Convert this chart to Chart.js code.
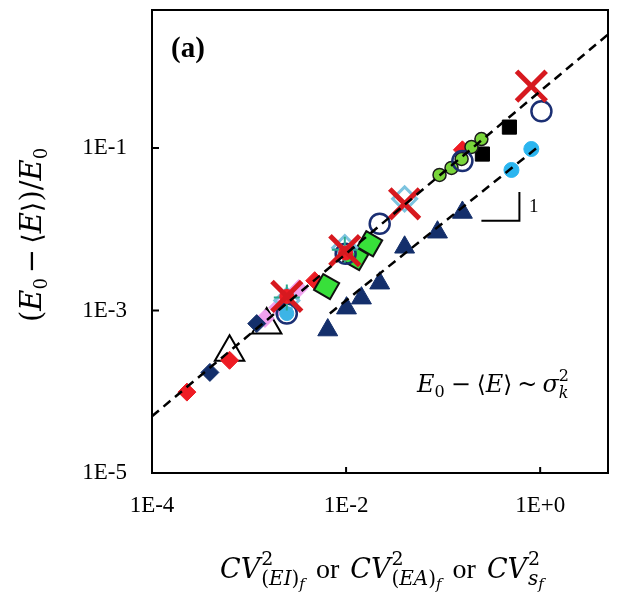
<!DOCTYPE html>
<html>
<head>
<meta charset="utf-8">
<script src="https://cdn.jsdelivr.net/npm/chart.js@4.4.1/dist/chart.umd.min.js"></script>
<style>
  html, body { margin: 0; padding: 0; background: #fff; }
</style>
</head>
<body>
<canvas id="chart" width="621" height="605"></canvas>
<script>
// axis ticks
const xTicks = [1e-4, 1e-2, 1];
const xTickLabels = ['1E-4', '1E-2', '1E+0'];
const yTicks = [1e-5, 1e-3, 1e-1];
const yTickLabels = ['1E-5', '1E-3', '1E-1'];

// fitted lines (slope 1 in log-log)
const fitUpperX = [1e-4, 5];
const fitUpperY = [5e-5, 2.5];
const fitLowerX = [0.0068, 0.92];
const fitLowerY = [9.2e-4, 0.1];
const slopeX = [0.248, 0.611, 0.611];
const slopeY = [0.0127, 0.0127, 0.0288];

// data series
const redDiamondX = [2.29e-4, 6.3e-4, 4.75e-3, 0.158];
const redDiamondY = [9.9e-5, 2.44e-4, 2.33e-3, 0.095];
const navyDiamondX = [3.95e-4, 1.2e-3];
const navyDiamondY = [1.73e-4, 6.9e-4];
const pinkDiamondX = [1.46e-3, 1.98e-3, 3.25e-3];
const pinkDiamondY = [7.98e-4, 1.09e-3, 1.86e-3];
const openTriX = [6.3e-4, 1.52e-3];
const openTriY = [3.06e-4, 6.64e-4];
const navyTriX = [6.47e-3, 1.01e-2, 1.44e-2, 2.22e-2, 4.01e-2, 8.75e-2, 0.158];
const navyTriY = [5.75e-4, 1.07e-3, 1.42e-3, 2.17e-3, 6.0e-3, 9.2e-3, 1.61e-2];
const cyanX = [0.506, 0.811];
const cyanY = [0.0537, 0.0973];
const cyanSmallX = [2.45e-3];
const cyanSmallY = [9.18e-4];
const blackSqX = [0.254, 0.482];
const blackSqY = [0.0843, 0.181];
const openCircX = [2.45e-3, 9.9e-3, 2.22e-2, 0.158, 1.03];
const openCircY = [9.18e-4, 5.0e-3, 1.17e-2, 0.0692, 0.284];
const greenCircX = [0.0918, 0.122, 0.155, 0.196, 0.248];
const greenCircY = [0.0467, 0.0569, 0.0733, 0.103, 0.129];
const greenSqX = [6.3e-3, 1.26e-2, 1.75e-2];
const greenSqY = [1.97e-3, 4.47e-3, 6.64e-3];
const redCrossX = [2.45e-3, 9.7e-3, 4.01e-2, 0.811];
const redCrossY = [1.49e-3, 5.45e-3, 2.06e-2, 0.577];
const lbDiamondX = [2.45e-3, 9.7e-3, 4.01e-2];
const lbDiamondY = [1.33e-3, 5.93e-3, 2.37e-2];
const tealPlusX = [2.45e-3, 9.7e-3];
const tealPlusY = [1.45e-3, 5.6e-3];
const redDotX = [2.45e-3, 9.9e-3];
const redDotY = [1.49e-3, 5.1e-3];

const pts = (xs, ys) => xs.map((x, i) => ({ x: x, y: ys[i] }));
const SERIF = '"Liberation Serif", "Times New Roman", serif';
const MATH = '"DejaVu Serif", serif';

function marker(xs, ys, style, radius, fill, stroke, width, extra) {
    return Object.assign({
        data: pts(xs, ys),
        pointStyle: style,
        pointRadius: radius,
        pointBackgroundColor: fill,
        pointBorderColor: stroke,
        pointBorderWidth: width,
        showLine: false
    }, extra || {});
}

function fitLine(xs, ys, dash, width) {
    return {
        data: pts(xs, ys),
        showLine: true,
        borderColor: '#000',
        borderWidth: width,
        borderDash: dash,
        pointRadius: 0,
        fill: false
    };
}

// draws a run of text parts; stacks hold sup/sub pairs
function richText(ctx, parts, x, y, draw) {
    let cx = x;
    for (const p of parts) {
        if (p.stack) {
            const a = richText(ctx, p.stack[0], cx, y, draw);
            const b = richText(ctx, p.stack[1], cx, y, draw);
            cx = Math.max(a, b);
        } else if (p.gap) {
            cx += p.gap;
        } else {
            ctx.font = (p.i ? 'italic ' : '') + p.s + 'px ' + (p.f || MATH);
            if (draw) ctx.fillText(p.t, cx, y + (p.dy || 0));
            cx += ctx.measureText(p.t).width;
        }
    }
    return cx;
}

function centeredText(ctx, parts, cx, y) {
    const w = richText(ctx, parts, 0, 0, false);
    richText(ctx, parts, cx - w / 2, y, true);
}

const decor = {
    id: 'decor',
    afterDraw(chart) {
        const ctx = chart.ctx;
        const a = chart.chartArea;
        const xs = chart.scales.x, ys = chart.scales.y;
        ctx.save();
        ctx.strokeStyle = '#000';
        ctx.lineWidth = 2;
        ctx.strokeRect(a.left, a.top, a.right - a.left, a.bottom - a.top);

        // inward tick marks
        ctx.beginPath();
        xTicks.forEach(v => {
            const p = xs.getPixelForValue(v);
            ctx.moveTo(p, a.bottom); ctx.lineTo(p, a.bottom - 6);
        });
        yTicks.forEach(v => {
            const p = ys.getPixelForValue(v);
            ctx.moveTo(a.left, p); ctx.lineTo(a.left + 7, p);
        });
        ctx.stroke();

        ctx.fillStyle = '#000';
        ctx.textBaseline = 'alphabetic';
        ctx.textAlign = 'left';

        // panel label
        ctx.font = 'bold 29px ' + SERIF;
        ctx.fillText('(a)', 171, 57);

        // slope label
        ctx.font = '19px ' + SERIF;
        ctx.fillText('1', 529, 212);

        // scaling annotation
        richText(ctx, [
            { t: 'E', i: true, s: 24 },
            { t: '0', s: 16, dy: 5 },
            { gap: 6 },
            { t: '\u2212', s: 24 },
            { gap: 6 },
            { t: '\u27E8', s: 23 },
            { t: 'E', i: true, s: 24 },
            { t: '\u27E9', s: 23 },
            { gap: 5 },
            { t: '~', s: 24 },
            { gap: 5 },
            { t: '\u03C3', i: true, s: 24 },
            { stack: [[{ t: '2', s: 16, dy: -11 }], [{ t: 'k', i: true, s: 16, dy: 6 }]] }
        ], 417, 392, true);

        // x title
        const cvPart = (sub) => [
            { t: 'CV', i: true, s: 27 },
            { gap: 1 },
            { stack: [[{ t: '2', s: 19, dy: -13 }], sub] }
        ];
        const sub = (txt) => [
            { t: '(', s: 20, dy: 7 }, { t: txt, i: true, s: 20, dy: 7 },
            { t: ')', s: 20, dy: 7 }, { t: 'f', i: true, s: 15, dy: 11 }
        ];
        const or = [{ gap: 4 }, { t: ' or ', s: 28, f: SERIF }, { gap: 4 }];
        const xParts = [].concat(
            cvPart(sub('EI')), or,
            cvPart(sub('EA')), or,
            cvPart([{ t: 's', i: true, s: 20, dy: 7 }, { t: 'f', i: true, s: 15, dy: 11 }])
        );
        centeredText(ctx, xParts, (a.left + a.right) / 2 + 2, 578);

        // y title, rotated
        ctx.translate(41, 235);
        ctx.rotate(-Math.PI / 2);
        centeredText(ctx, [
            { t: '(', s: 29 },
            { t: 'E', i: true, s: 29 },
            { t: '0', s: 18, dy: 6 },
            { gap: 5 },
            { t: '\u2212', s: 29 },
            { gap: 5 },
            { t: '\u27E8', s: 27 },
            { t: 'E', i: true, s: 29 },
            { t: '\u27E9', s: 27 },
            { t: ')/', s: 29 },
            { t: 'E', i: true, s: 29 },
            { t: '0', s: 18, dy: 6 }
        ], 0, 0);
        ctx.restore();
    }
};

const tickLabel = (vals, labels) => (v) => {
    const i = vals.findIndex(t => Math.abs(Math.log10(t) - Math.log10(v)) < 1e-6);
    return i >= 0 ? labels[i] : '';
};

const noPad = axis => {
    axis.paddingLeft = 0;
    axis.paddingRight = 0;
    axis.paddingTop = 0;
    axis.paddingBottom = 0;
};

new Chart(document.getElementById('chart'), {
    type: 'scatter',
    data: {
        datasets: [
            fitLine(fitUpperX, fitUpperY, [9, 6], 2.5),
            fitLine(fitLowerX, fitLowerY, [9, 6], 2.5),
            fitLine(slopeX, slopeY, [], 2),
            marker(redCrossX, redCrossY, 'crossRot', 21, '#d7191f', '#d7191f', 5),
            marker(redDotX, redDotY, 'circle', 7, '#ee1c24', '#ee1c24', 1),
            marker(tealPlusX, tealPlusY, 'cross', 13, '#2aa88c', '#2aa88c', 2),
            marker(openCircX, openCircY, 'circle', 10, 'rgba(0,0,0,0)', '#1b2f73', 2.5),
            marker(cyanSmallX, cyanSmallY, 'circle', 7, '#3cb4e6', '#3cb4e6', 1),
            marker(lbDiamondX, lbDiamondY, 'rectRot', 12, 'rgba(0,0,0,0)', '#7cc3df', 3),
            marker(greenCircX, greenCircY, 'circle', 6.5, '#79d53a', '#1a1a1a', 1.5),
            marker(greenSqX, greenSqY, 'rect', 13, '#38e03a', '#111', 2, { pointRotation: 30 }),
            marker(redDiamondX, redDiamondY, 'rectRot', 9, '#ee1c24', '#ee1c24', 1),
            marker(navyDiamondX, navyDiamondY, 'rectRot', 9, '#142f6b', '#142f6b', 1),
            marker(pinkDiamondX, pinkDiamondY, 'rectRot', 9, '#f0a0ee', '#f0a0ee', 1),
            marker(openTriX, openTriY, 'triangle', 17, 'rgba(0,0,0,0)', '#000', 2),
            marker(navyTriX, navyTriY, 'triangle', 11.5, '#142f6b', '#142f6b', 1),
            marker(cyanX, cyanY, 'circle', 7.5, '#2bb5ef', '#2bb5ef', 1),
            marker(blackSqX, blackSqY, 'rect', 10, '#000', '#000', 1)
        ]
    },
    options: {
        responsive: false,
        animation: false,
        layout: { autoPadding: false, padding: { left: 0, right: 13, top: 10, bottom: 0 } },
        plugins: { legend: { display: false }, tooltip: { enabled: false } },
        scales: {
            x: {
                type: 'logarithmic',
                min: 1e-4,
                max: 5,
                grid: { display: false, drawTicks: false },
                border: { display: false },
                afterBuildTicks: axis => { axis.ticks = xTicks.map(v => ({ value: v })); },
                afterFit: axis => { axis.height = 132; noPad(axis); },
                ticks: {
                    autoSkip: false,
                    maxRotation: 0,
                    padding: 19,
                    color: '#000',
                    font: { family: SERIF, size: 23 },
                    callback: tickLabel(xTicks, xTickLabels)
                }
            },
            y: {
                type: 'logarithmic',
                min: 1e-5,
                max: 5,
                grid: { display: false, drawTicks: false },
                border: { display: false },
                afterBuildTicks: axis => { axis.ticks = yTicks.map(v => ({ value: v })); },
                afterFit: axis => { axis.width = 152; noPad(axis); },
                ticks: {
                    autoSkip: false,
                    padding: 25,
                    color: '#000',
                    font: { family: SERIF, size: 23 },
                    callback: tickLabel(yTicks, yTickLabels)
                }
            }
        }
    },
    plugins: [decor]
});
</script>
</body>
</html>
